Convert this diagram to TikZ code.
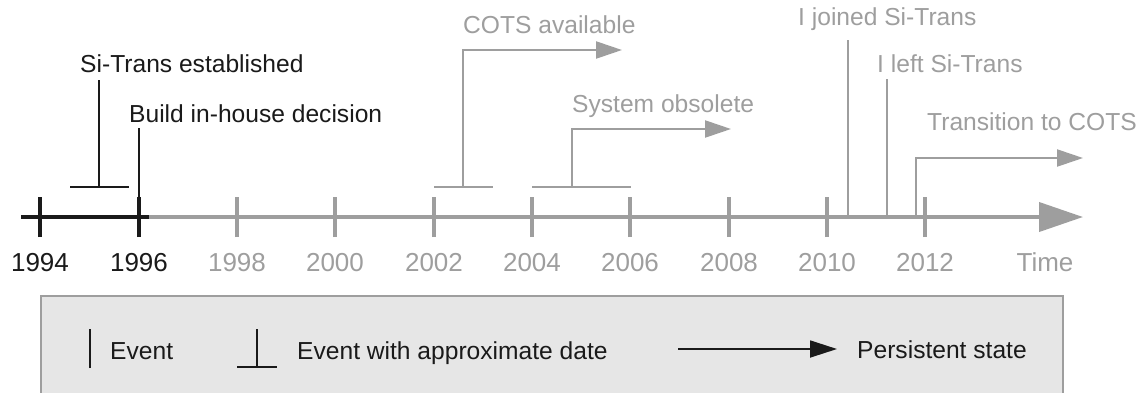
\documentclass[tikz,border=0pt]{standalone}
\usepackage{fontspec}
\setmainfont{Liberation Sans}
\usepackage{xcolor}
\usetikzlibrary{arrows.meta,positioning}
\definecolor{TLgray}{HTML}{9E9E9E}
\definecolor{TLbox}{HTML}{E6E6E6}
\definecolor{TLink}{HTML}{1A1A1A}
\tikzset{
  lbl/.style={font=\fontsize{24.6}{28}\selectfont, inner sep=0pt, anchor=base west},
  yearlbl/.style={font=\fontsize{26}{30}\selectfont, inner sep=0pt, anchor=base},
  evline/.style={line width=2.2pt},
  state/.style={line width=2.2pt, -{Triangle[length=26pt,width=17pt]}},
}
\begin{document}
\begin{tikzpicture}[x=1pt,y=-1pt]
  \useasboundingbox (0,0) rectangle (1140,392);
  % time axis
  \coordinate (axisL) at (21,217);
  \coordinate (axisM) at (149,217);
  \coordinate (axisR) at (1083,217);
  \draw[TLgray, line width=4pt, -{Triangle[length=44pt,width=29pt]}] (axisM) -- (axisR);
  \draw[TLink, line width=4pt] (axisL) -- (axisM);
  \foreach \yr/\x/\col in {1994/40/TLink,1996/139/TLink,1998/237/TLgray,2000/335/TLgray,
                           2002/434/TLgray,2004/532/TLgray,2006/630/TLgray,2008/729/TLgray,
                           2010/827/TLgray,2012/925/TLgray}{
    \coordinate (t\yr) at (\x,217);
    \draw[\col, line width=4pt] ([yshift=-20pt]t\yr) -- ([yshift=20pt]t\yr);
    \node[yearlbl, \col] (y\yr) at (\x,271) {\yr};
  }
  \node[yearlbl, TLgray] (ytime) at (1045,271) {Time};

  % Si-Trans established (approximate)
  \coordinate (estA) at (70,187);
  \coordinate (estB) at (129,187);
  \coordinate (estM) at (99,187);
  \coordinate (estT) at (99,80);
  \draw[evline, TLink] (estA) -- (estB);
  \draw[evline, TLink] (estM) -- (estT);
  \node[lbl, TLink] (est) at (80,72) {Si-Trans established};

  % Build in-house decision
  \coordinate (bldT) at (139,128);
  \draw[evline, TLink] (t1996) -- (bldT);
  \node[lbl, TLink] (bld) at (129,122) {Build in-house decision};

  % COTS available
  \coordinate (cotsA) at (434,187);
  \coordinate (cotsB) at (493,187);
  \coordinate (cotsM) at (463,187);
  \coordinate (cotsC) at (463,50);
  \coordinate (cotsE) at (622,50);
  \draw[evline, TLgray] (cotsA) -- (cotsB);
  \draw[state, TLgray] (cotsM) -- (cotsC) -- (cotsE);
  \node[lbl, TLgray] (cots) at (463,33) {COTS available};

  % System obsolete
  \coordinate (obsA) at (532,187);
  \coordinate (obsB) at (631,187);
  \coordinate (obsM) at (572,187);
  \coordinate (obsC) at (572,129);
  \coordinate (obsE) at (731,129);
  \draw[evline, TLgray] (obsA) -- (obsB);
  \draw[state, TLgray] (obsM) -- (obsC) -- (obsE);
  \node[lbl, TLgray] (obs) at (572,112) {System obsolete};

  % I joined / I left
  \coordinate (joinB) at (848,217);
  \coordinate (joinT) at (848,40);
  \draw[evline, TLgray] (joinB) -- (joinT);
  \node[lbl, TLgray] (join) at (798,25) {I joined Si-Trans};
  \coordinate (leftB) at (887,217);
  \coordinate (leftT) at (887,79);
  \draw[evline, TLgray] (leftB) -- (leftT);
  \node[lbl, TLgray] (left) at (877,72) {I left Si-Trans};

  % Transition to COTS
  \coordinate (trnB) at (916,217);
  \coordinate (trnC) at (916,158);
  \coordinate (trnE) at (1083,158);
  \draw[state, TLgray] (trnB) -- (trnC) -- (trnE);
  \node[lbl, TLgray] (trn) at (927,130) {Transition to COTS};

  % legend
  \draw[TLgray, fill=TLbox, line width=1.5pt] (41,296) rectangle (1063,396);
  \coordinate (lgEvB) at (90,368);
  \coordinate (lgEvT) at (90,329);
  \draw[line width=1.8pt, TLink] (lgEvB) -- (lgEvT);
  \node[lbl, TLink] (lgEv) at (110,359) {Event};
  \coordinate (lgApA) at (237,367);
  \coordinate (lgApB) at (277,367);
  \coordinate (lgApM) at (257,367);
  \coordinate (lgApT) at (257,329);
  \draw[line width=1.8pt, TLink] (lgApA) -- (lgApB);
  \draw[line width=1.8pt, TLink] (lgApM) -- (lgApT);
  \node[lbl, TLink] (lgAp) at (297,359) {Event with approximate date};
  \coordinate (lgStA) at (678,349);
  \coordinate (lgStB) at (837,349);
  \draw[TLink, line width=1.8pt, -{Triangle[length=27pt,width=17pt]}] (lgStA) -- (lgStB);
  \node[lbl, TLink] (lgSt) at (857,358) {Persistent state};
\end{tikzpicture}
\end{document}
